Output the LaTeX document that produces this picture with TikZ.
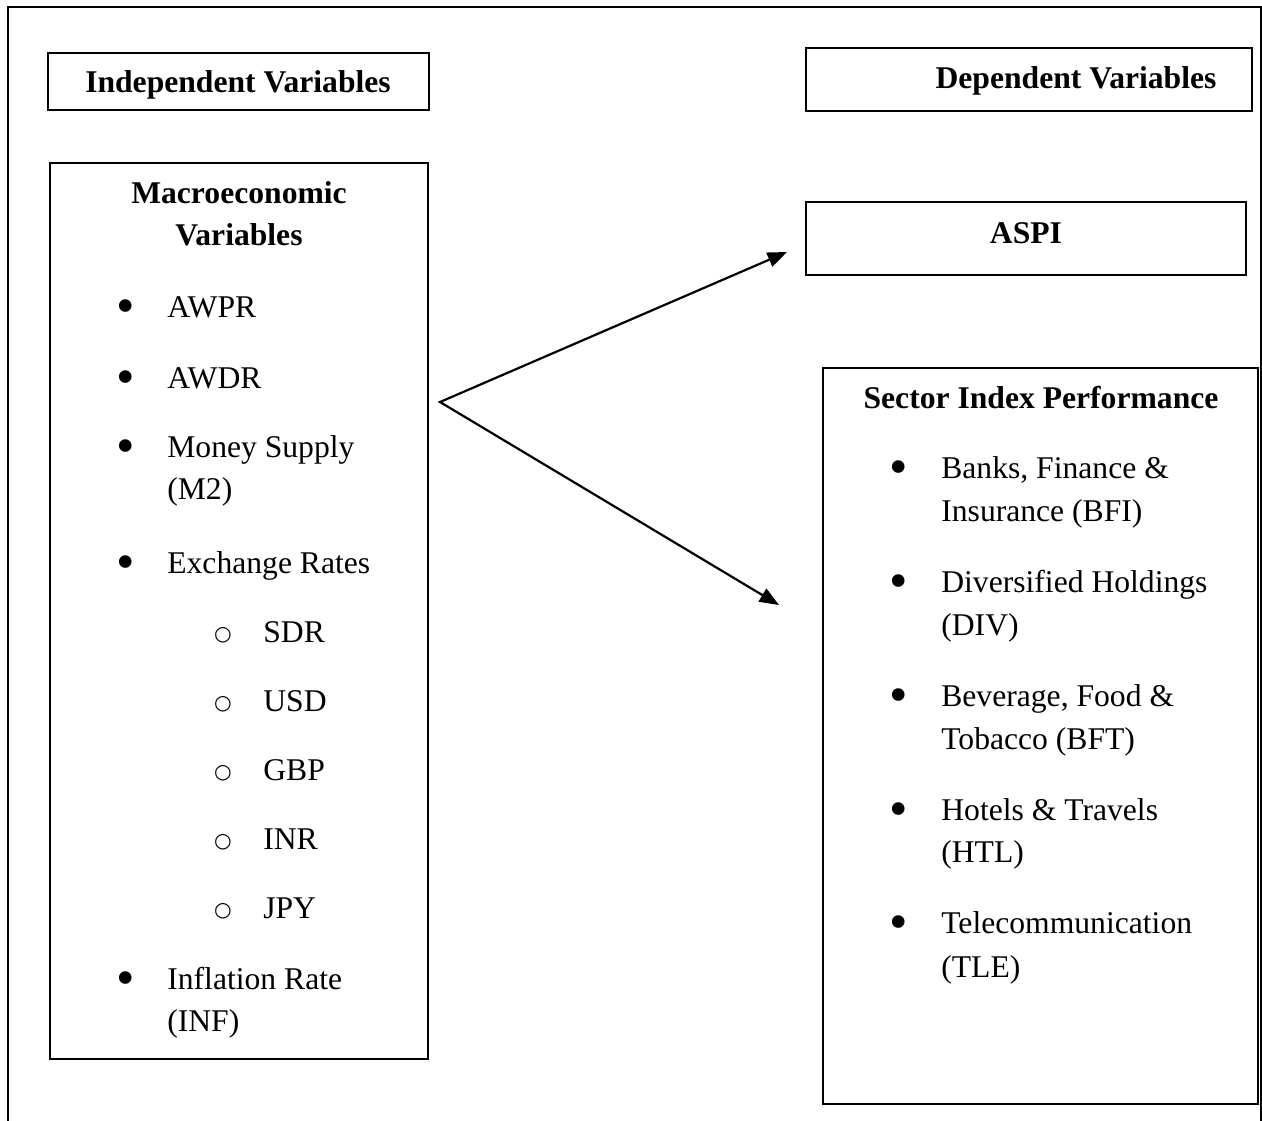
\documentclass[tikz,border=0pt]{standalone}
\usepackage{fontspec}
\setmainfont{Liberation Serif}
\newfontfamily\ringfont{DejaVu Sans}
\usetikzlibrary{arrows.meta}

\begin{document}
\begin{tikzpicture}[x=0.02cm, y=-0.02cm,
  txt/.style={anchor=base west, inner sep=0pt, font=\fontsize{18pt}{24pt}\selectfont},
  hd/.style={anchor=base, inner sep=0pt, font=\fontsize{18pt}{24pt}\selectfont\bfseries},
  dot/.style={anchor=base, inner sep=0pt, yshift=-6.7*0.02cm, font=\fontsize{30pt}{30pt}\selectfont},
  ring/.style={anchor=center, inner sep=0pt, yshift=7*0.02cm, font=\fontsize{11.5pt}{11.5pt}\ringfont},
  box/.style={line width=1.25pt},
  link/.style={line width=1.25pt, {Triangle[length=11pt,width=8.5pt]}-{Triangle[length=11pt,width=8.5pt]}}]

\useasboundingbox (0,0) rectangle (1262,1120);

% outer frame
\draw[box] (8,1130) -- (8,7) -- (1261,7) -- (1261,1130);

% boxes
\draw[box] (48,53) rectangle (429,110);
\draw[box] (50,163) rectangle (428,1059);
\draw[box] (806,48) rectangle (1252,111);
\draw[box] (806,202) rectangle (1246,275);
\draw[box] (823,368) rectangle (1258,1104);

% -------- headings -----------
\node[hd] (indep)  at (238,92)   {Independent Variables};
\node[hd] (macroA) at (239,203)  {Macroeconomic};
\node[hd] (macroB) at (239,245)  {Variables};
\node[hd] (dep)    at (1076,88)  {Dependent Variables};
\node[hd] (aspi)   at (1026,243) {ASPI};
\node[hd] (sector) at (1041,408) {Sector Index Performance};

% -------- independent list -----------
\node[dot] (dA) at (126,317) {•};
\node[txt] (awpr) at (167,317) {AWPR};
\node[dot] (dB) at (126,388) {•};
\node[txt] (awdr) at (167,388) {AWDR};
\node[dot] (dC) at (126,457) {•};
\node[txt] (msA) at (167,457) {Money Supply};
\node[txt] (msB) at (167,499) {(M2)};
\node[dot] (dD) at (126,573) {•};
\node[txt] (exr) at (167,573) {Exchange Rates};

\node[ring] (oA) at (223,642) {○};
\node[txt] (sdr) at (263,642) {SDR};
\node[ring] (oB) at (223,711) {○};
\node[txt] (usd) at (263,711) {USD};
\node[ring] (oC) at (223,780) {○};
\node[txt] (gbp) at (263,780) {GBP};
\node[ring] (oD) at (223,849) {○};
\node[txt] (inr) at (263,849) {INR};
\node[ring] (oE) at (223,918) {○};
\node[txt] (jpy) at (263,918) {JPY};

\node[dot] (dE) at (126,989) {•};
\node[txt] (infA) at (167,989) {Inflation Rate};
\node[txt] (infB) at (167,1031) {(INF)};

% -------- sector list -----------
\node[dot] (sA) at (899,478) {•};
\node[txt] (bfiA) at (941,478) {Banks, Finance \&};
\node[txt] (bfiB) at (941,521) {Insurance (BFI)};
\node[dot] (sB) at (899,592) {•};
\node[txt] (divA) at (941,592) {Diversified Holdings};
\node[txt] (divB) at (941,635) {(DIV)};
\node[dot] (sC) at (899,706) {•};
\node[txt] (bftA) at (941,706) {Beverage, Food \&};
\node[txt] (bftB) at (941,749) {Tobacco (BFT)};
\node[dot] (sD) at (899,820) {•};
\node[txt] (htlA) at (941,820) {Hotels \& Travels};
\node[txt] (htlB) at (941,862) {(HTL)};
\node[dot] (sE) at (899,933) {•};
\node[txt] (tleA) at (941,933) {Telecommunication};
\node[txt] (tleB) at (941,977) {(TLE)};

% -------- arrows -----------
\coordinate (fork) at (440,402);
\coordinate (toaspi) at (787,252);
\coordinate (tosector) at (779,605);
\draw[link] (toaspi) -- (fork) -- (tosector);
\end{tikzpicture}
\end{document}
